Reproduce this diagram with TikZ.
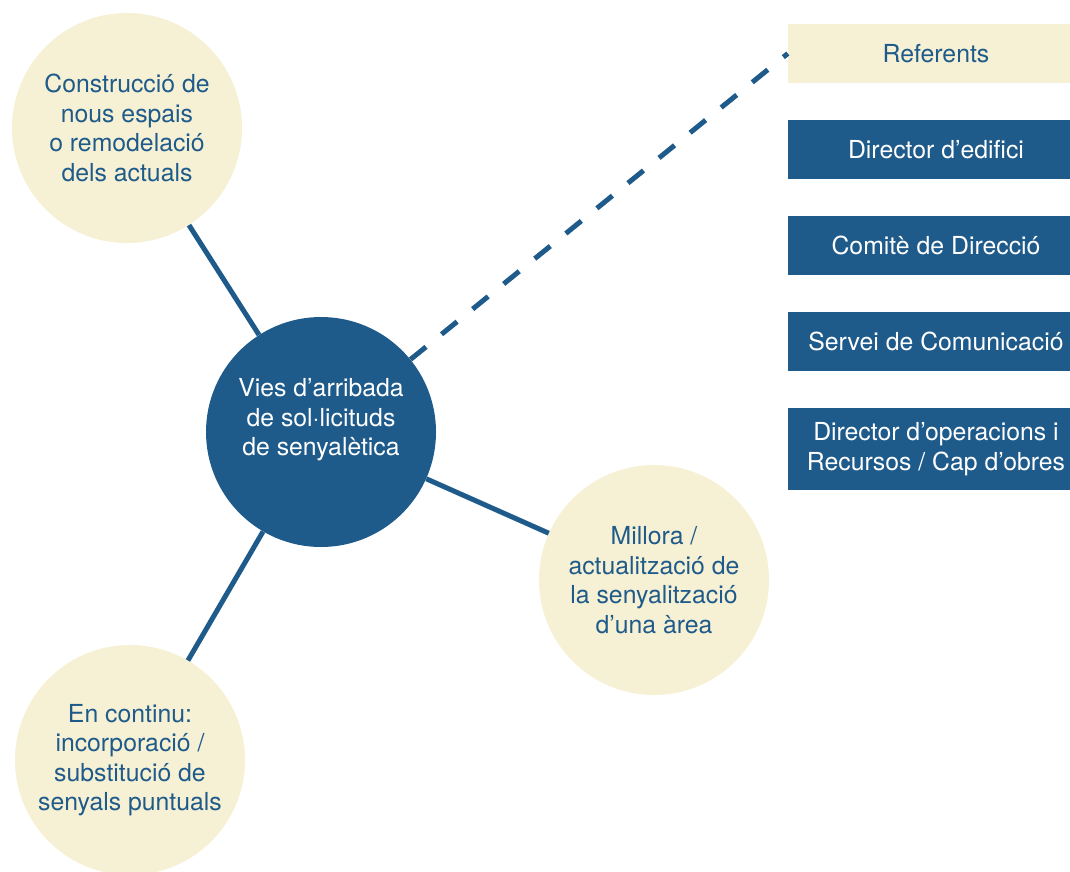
\documentclass[tikz,border=0pt]{standalone}
\usepackage{fontspec}
\setmainfont{TeX Gyre Heros}
\definecolor{navy}{RGB}{31,91,138}
\definecolor{cream}{RGB}{246,240,212}
\begin{document}
\begin{tikzpicture}[x=1pt,y=-1pt,
  every node/.style={font=\fontsize{24.8}{29.5}\selectfont,align=center,inner sep=0pt},
  bubble/.style={circle,fill=cream,text=navy,minimum size=230pt},
  hub/.style={circle,fill=navy,minimum size=230pt},
  rolebox/.style={rectangle,fill=navy,text=white,minimum width=296pt,minimum height=59pt},
  link/.style={navy,line width=5pt}]
\clip (0,0) rectangle (1070,871);
% Circles
\node[hub,label={[text=white,yshift=12pt]center:Vies d’arribada\\de sol·licituds\\de senyalètica}] (hub) at (321,432) {};
\node[bubble] (build) at (127,128) {Construcció de\\nous espais\\o remodelació\\dels actuals};
\node[bubble] (improve) at (654,580) {Millora /\\actualització de\\la senyalització\\d’una àrea};
\node[bubble] (ongoing) at (130,760) {En continu:\\incorporació /\\substitució de\\senyals puntuals};
% Links
\draw[link] (hub) -- (build);
\draw[link] (hub) -- (improve);
\draw[link] (hub) -- (ongoing);
% Roles
\node[rolebox,fill=cream,text=navy] (ref) at (936,53.5) {Referents};
\node[rolebox] (building) at (936,149.5) {Director d’edifici};
\node[rolebox] (board) at (936,245.5) {Comitè de Direcció};
\node[rolebox] (comms) at (936,341.5) {Servei de Comunicació};
\node[rolebox,minimum height=82pt] (works) at (936,449) {Director d’operacions i\\Recursos / Cap d’obres};
\draw[link,dash pattern=on 20pt off 20pt] (hub) -- (ref.west);
\end{tikzpicture}
\end{document}
